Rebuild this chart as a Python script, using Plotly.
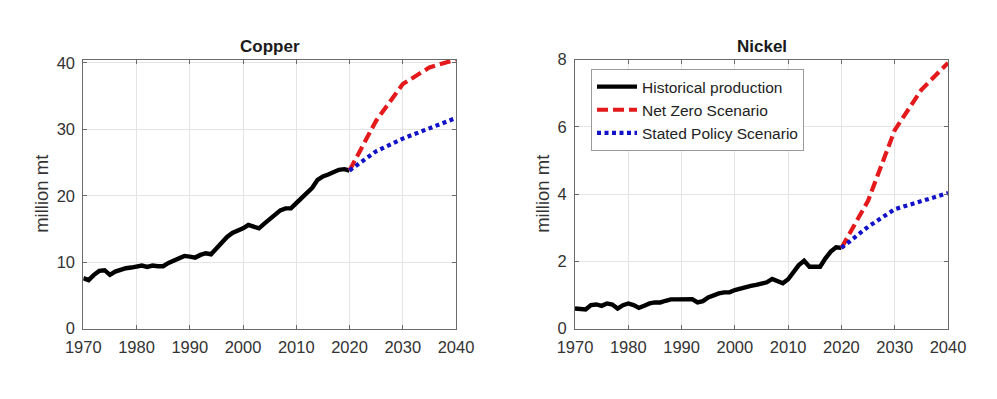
import plotly.graph_objects as go

# ---------------- data ----------------
hist_years = list(range(1970, 2021))
copper_hist = [7.6, 7.3, 8.1, 8.7, 8.8, 8.1, 8.6, 8.9, 9.1, 9.2,
               9.3, 9.5, 9.3, 9.5, 9.4, 9.4, 9.9, 10.2, 10.6, 10.95,
               10.85, 10.7, 11.1, 11.35, 11.2, 12.1, 13.1, 13.8, 14.4, 14.7,
               15.1, 15.6, 15.3, 15.1, 15.8, 16.4, 17.1, 17.8, 18.1, 18.1,
               18.9, 19.6, 20.3, 21.2, 22.4, 22.9, 23.2, 23.5, 23.9, 24.0,
               23.8]
nickel_hist = [0.60, 0.60, 0.57, 0.70, 0.72, 0.68, 0.75, 0.72, 0.60, 0.70,
               0.75, 0.70, 0.62, 0.68, 0.75, 0.78, 0.78, 0.83, 0.87, 0.87,
               0.87, 0.85, 0.88, 0.78, 0.82, 0.93, 1.00, 1.05, 1.08, 1.08,
               1.15, 1.20, 1.23, 1.27, 1.30, 1.35, 1.38, 1.48, 1.40, 1.35,
               1.47, 1.69, 1.89, 2.02, 1.84, 1.84, 1.84, 2.09, 2.29, 2.42,
               2.40]

scen_years = [2020, 2025, 2030, 2035, 2040]
copper_nz = [23.8, 31.3, 36.8, 39.3, 40.5]
copper_sps = [23.8, 26.7, 28.6, 30.1, 31.7]
nickel_nz = [2.40, 3.80, 5.90, 7.10, 7.90]
nickel_sps = [2.40, 3.03, 3.55, 3.78, 4.03]

x_ticks = [1970, 1980, 1990, 2000, 2010, 2020, 2030, 2040]
copper_yticks = [0, 10, 20, 30, 40]
nickel_yticks = [0, 2, 4, 6, 8]

titles = ["Copper", "Nickel"]
y_label = "million mt"
legend_names = ["Historical production", "Net Zero Scenario", "Stated Policy Scenario"]

# ---------------- styling ----------------
W, H = 997, 399
FONT = "Liberation Sans, Arial, Helvetica, sans-serif"
TXT = "#333333"
AX = "#6a6a6a"
GRID = "#e4e4e4"
BLACK = "#000000"
RED = "#e3191c"
BLUE = "#1212c8"

fig = go.Figure()

panels = [
    dict(xa="x", ya="y", hist=copper_hist, nz=copper_nz, sps=copper_sps, leg=False),
    dict(xa="x2", ya="y2", hist=nickel_hist, nz=nickel_nz, sps=nickel_sps, leg=True),
]
for p in panels:
    fig.add_trace(go.Scatter(x=hist_years, y=p["hist"], mode="lines", xaxis=p["xa"], yaxis=p["ya"],
                             name=legend_names[0], showlegend=p["leg"],
                             line=dict(color=BLACK, width=4.4)))
    fig.add_trace(go.Scatter(x=scen_years, y=p["nz"], mode="lines", xaxis=p["xa"], yaxis=p["ya"],
                             name=legend_names[1], showlegend=p["leg"],
                             line=dict(color=RED, width=4.2, dash="11px,5px")))
    fig.add_trace(go.Scatter(x=scen_years, y=p["sps"], mode="lines", xaxis=p["xa"], yaxis=p["ya"],
                             name=legend_names[2], showlegend=p["leg"],
                             line=dict(color=BLUE, width=4.2, dash="4px,3.5px")))

# plot-area pixel boxes
L1, R1 = 83.3, 456.0
L2, R2 = 575.0, 948.0
TOP, BOT = 59.5, 328.7

def px_x(v):
    return v / W

def px_y(v):
    return 1 - v / H

common_x = dict(range=[1970, 2040], tickvals=x_ticks, ticks="inside", ticklen=4, tickwidth=1,
                tickcolor=AX, showline=True, linecolor=AX, linewidth=1, mirror="ticks",
                showgrid=True, gridcolor=GRID, gridwidth=1, zeroline=False, automargin=False,
                ticklabelstandoff=3,
                tickfont=dict(family=FONT, size=16.5, color=TXT), fixedrange=True)
common_y = dict(ticks="inside", ticklen=4, tickwidth=1, tickcolor=AX, showline=True,
                linecolor=AX, linewidth=1, mirror="ticks", showgrid=True, gridcolor=GRID,
                gridwidth=1, zeroline=False, automargin=False, ticklabelstandoff=4,
                tickfont=dict(family=FONT, size=16.5, color=TXT),
                fixedrange=True)

fig.update_layout(
    width=W, height=H,
    margin=dict(l=0, r=0, t=0, b=0, autoexpand=False),
    paper_bgcolor="white", plot_bgcolor="white",
    font=dict(family=FONT, color=TXT),
    xaxis=dict(domain=[px_x(L1), px_x(R1)], anchor="y", **common_x),
    yaxis=dict(domain=[px_y(BOT), px_y(TOP)], anchor="x", range=[0, 40.5],
               tickvals=copper_yticks, **common_y),
    xaxis2=dict(domain=[px_x(L2), px_x(R2)], anchor="y2", **common_x),
    yaxis2=dict(domain=[px_y(BOT), px_y(TOP)], anchor="x2", range=[0, 8],
                tickvals=nickel_yticks, **common_y),
    legend=dict(x=px_x(591), y=px_y(69), xanchor="left", yanchor="top",
                bgcolor="white", bordercolor="#9a9a9a", borderwidth=1,
                font=dict(family=FONT, size=15.5, color="#222222"),
                tracegroupgap=0, itemwidth=40),
    showlegend=True,
    hovermode=False,
)

annotations = []
for t, cx in zip(titles, [(L1 + R1) / 2, (L2 + R2) / 2]):
    annotations.append(dict(text="<b>" + t + "</b>", x=px_x(cx), y=px_y(46.5), xref="paper", yref="paper",
                            xanchor="center", yanchor="middle", showarrow=False,
                            font=dict(family=FONT, size=17, color="#1a1a1a")))
for cx in [40.7, 541.7]:
    annotations.append(dict(text=y_label, x=px_x(cx), y=px_y((TOP + BOT) / 2), xref="paper", yref="paper",
                            xanchor="center", yanchor="middle", showarrow=False, textangle=-90,
                            font=dict(family=FONT, size=18.5, color=TXT)))
fig.update_layout(annotations=annotations)

fig.write_html("out.html", config={"displayModeBar": False},
               post_script="document.body.style.margin='0';document.body.style.padding='0';")
